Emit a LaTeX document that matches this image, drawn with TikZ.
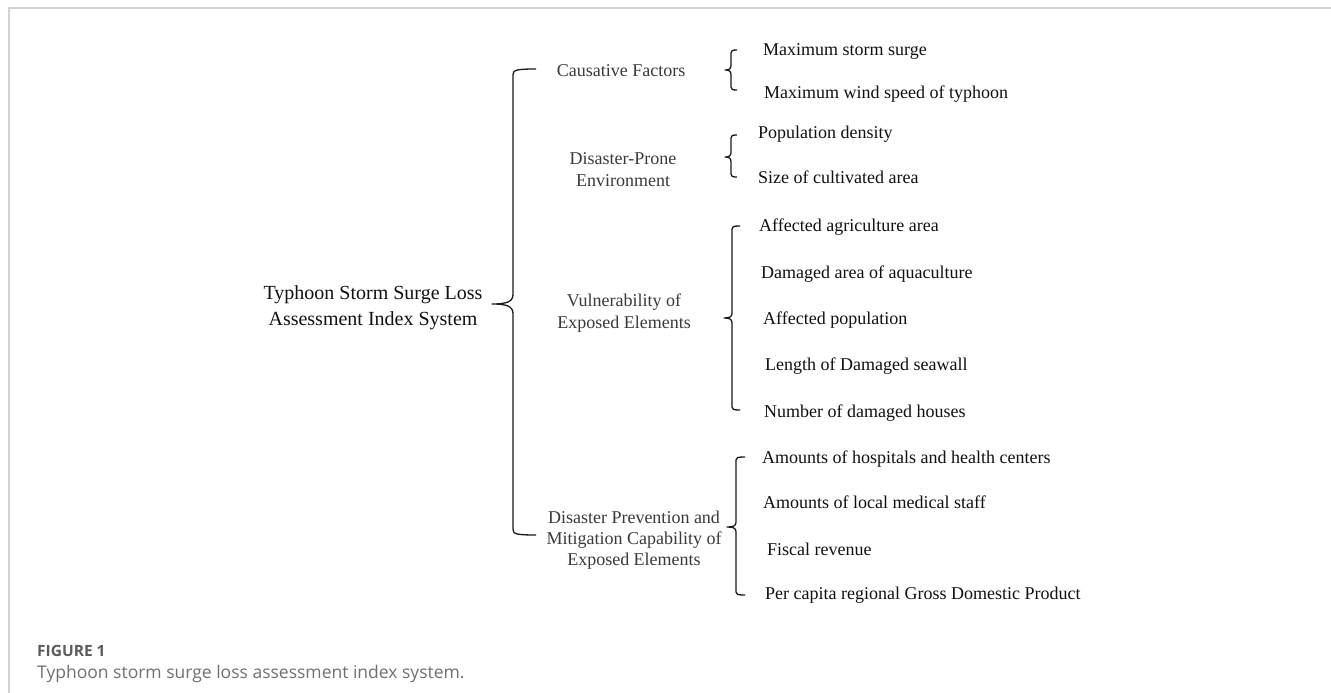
\documentclass[tikz,border=0pt]{standalone}
\usepackage{fontspec}
\setmainfont{Liberation Serif}
\newfontfamily\capfont{Open Sans}
\definecolor{framegray}{HTML}{D3D3D3}
\definecolor{catgray}{HTML}{3A3A3A}
\definecolor{itemblack}{HTML}{111111}
\definecolor{brcol}{HTML}{1A1A1A}
\definecolor{capgray}{HTML}{5C5C5C}
\definecolor{capgrayl}{HTML}{707070}
\newcommand\drawbrace[7]{% X, top, mid, bottom, tip, serif, corner
  \draw[brace] (#1+#6,#2) .. controls (#1+#7*0.4,#2) and (#1,#2+#7*0.2) .. (#1,#2+#7)
    -- (#1,#3-#7*1.6) .. controls (#1,#3-#7*0.3) and (#1-#5*0.35,#3) .. (#1-#5,#3)
    .. controls (#1-#5*0.35,#3) and (#1,#3+#7*0.3) .. (#1,#3+#7*1.6)
    -- (#1,#4-#7) .. controls (#1,#4-#7*0.2) and (#1+#7*0.4,#4) .. (#1+#6,#4);}
\begin{document}
\begin{tikzpicture}[x=1pt,y=-1pt,
  brace/.style={draw=brcol, line width=1.3pt, line join=round},
  rootbox/.style={align=center, inner sep=0pt, text=itemblack,
    font=\fontsize{20}{26}\selectfont, text height=0.69em, text depth=0.22em},
  catbox/.style={align=center, inner sep=0pt, text=catgray,
    font=\fontsize{18}{22}\selectfont, text height=0.69em, text depth=0.22em},
  itembox/.style={anchor=west, inner sep=0pt, text=itemblack,
    font=\fontsize{18}{22}\selectfont, text height=0.69em, text depth=0.22em},
  frameline/.style={draw=framegray, line width=1.5pt}
  ]
\useasboundingbox (0,0) rectangle (1331,693);
\fill[white] (0,0) rectangle (1331,693);
\draw[frameline] (9,693) -- (9,8) -- (1331,8);

% root
\node[rootbox] (root) at (373,323) {Typhoon Storm Surge Loss\\Assessment Index System};

% categories
\node[catbox] (cf) at (621,74) {Causative Factors};
\node[catbox] (dpe) at (623,184) {Disaster-Prone\\Environment};
\node[catbox] (vee) at (624,326) {Vulnerability of\\Exposed Elements};
\node[catbox,font=\fontsize{18}{21}\selectfont] (dpm) at (634,563) {Disaster Prevention and\\Mitigation Capability of\\Exposed Elements};

% items
\node[itembox] (i1) at (763,53) {Maximum storm surge};
\node[itembox] (i2) at (764,96) {Maximum wind speed of typhoon};
\node[itembox] (i3) at (758,136) {Population density};
\node[itembox] (i4) at (758,181) {Size of cultivated area};
\node[itembox] (i5) at (759,229) {Affected agriculture area};
\node[itembox] (i6) at (761,276) {Damaged area of aquaculture};
\node[itembox] (i7) at (763,322) {Affected population};
\node[itembox] (i8) at (765,368) {Length of Damaged seawall};
\node[itembox] (i9) at (764,415) {Number of damaged houses};
\node[itembox] (i10) at (762,461) {Amounts of hospitals and health centers};
\node[itembox] (i11) at (763,506) {Amounts of local medical staff};
\node[itembox] (i12) at (767,553) {Fiscal revenue};
\node[itembox] (i13) at (765,597) {Per capita regional Gross Domestic Product};

% braces
\drawbrace{513}{69}{304}{535}{21}{23}{6}
\drawbrace{731}{50}{70}{90}{6}{6}{3}
\drawbrace{731}{135}{157}{177}{6}{6}{3}
\drawbrace{732}{226}{318}{410}{8}{8}{3}
\drawbrace{736}{457}{527}{595}{9}{9}{3}

% caption
\node[anchor=west, inner sep=0pt, text=capgray, font=\capfont\bfseries\fontsize{15.5}{19}\selectfont] (fig) at (37,651) {FIGURE 1};
\node[anchor=west, inner sep=0pt, text=capgrayl, font=\capfont\fontsize{17.5}{21}\selectfont] (cap) at (37,674) {Typhoon storm surge loss assessment index system.};
\end{tikzpicture}
\end{document}
